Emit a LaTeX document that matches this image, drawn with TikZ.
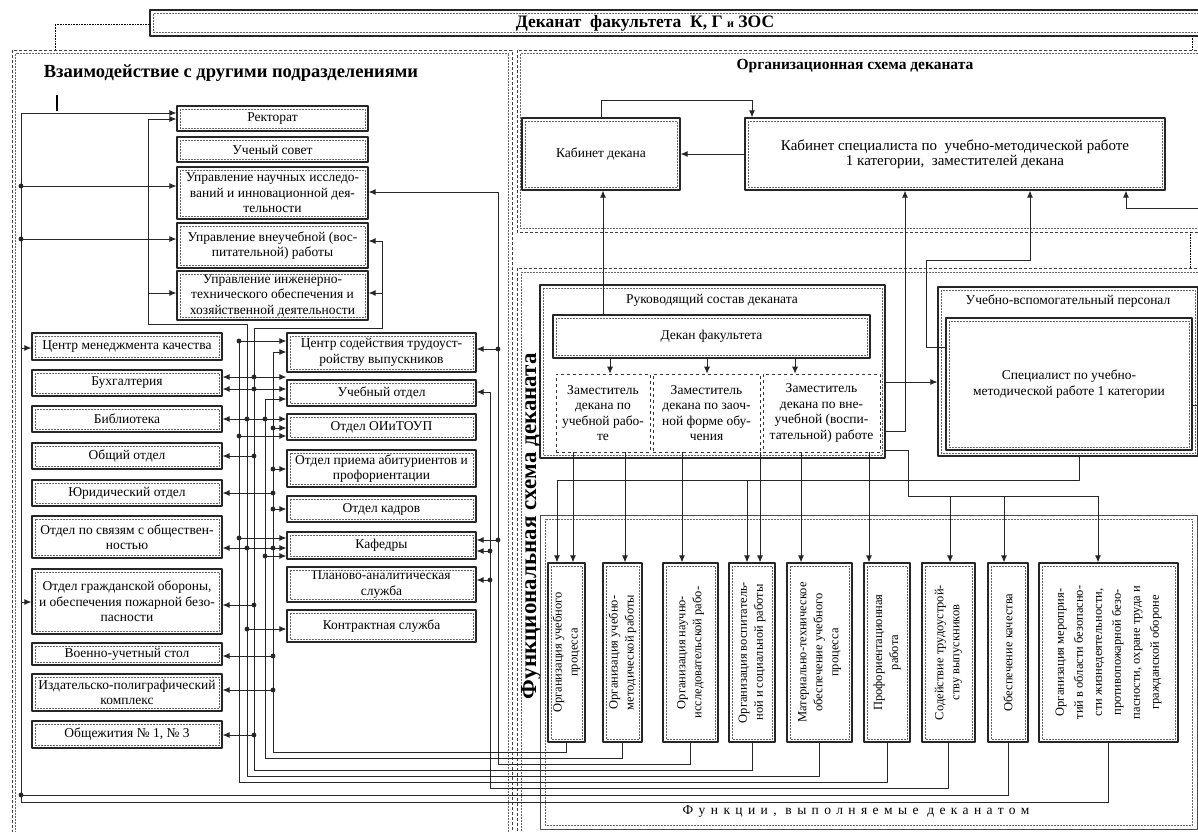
\documentclass[tikz,border=0pt]{standalone}
\usepackage{fontspec}
\setmainfont{Liberation Serif}
\usetikzlibrary{arrows.meta}
\newcommand{\bxfont}{\fontsize{13.5}{15.5}\selectfont}
\newcommand{\ftfont}{\fontsize{12.5}{16}\selectfont}
\tikzset{
 obox/.style={draw=black!85, line width=1.2pt, inner sep=1pt, align=center, font=\bxfont},
 ibox/.style={draw=black!60, densely dotted, line width=0.5pt},
 dep/.style={draw=black!80, dashed, line width=0.6pt, inner sep=0pt, align=center, font=\bxfont, minimum height=78},
 arr/.style={-{Latex[length=7pt,width=6pt]}, line width=0.9pt, draw=black!85},
 darr/.style={{Latex[length=7pt,width=6pt]}-{Latex[length=7pt,width=6pt]}, line width=0.9pt, draw=black!85},
 ln/.style={line width=0.9pt, draw=black!85},
 panel/.style={densely dashed, line width=0.7pt, draw=black!75},
}
\newcommand{\bx}[6]{%
 \node[obox, minimum width={#4-#2}, minimum height={#5-#3}] (#1) at ({(#2+#4)/2},{(#3+#5)/2}) {#6};
 \draw[ibox] ([shift={(3.5pt,-3.5pt)}]#1.north west) rectangle ([shift={(-3.5pt,3.5pt)}]#1.south east);}
\newcommand{\fb}[5]{%
 \node[obox, minimum width={#3-#2}, minimum height=179] (#1) at ({(#2+#3)/2},652.5) {};
 \draw[ibox] ([shift={(3.5pt,-3.5pt)}]#1.north west) rectangle ([shift={(-3.5pt,3.5pt)}]#1.south east);
 \node[rotate=90, align=center, inner sep=0pt, font=#5] (#1t) at (#1.center) {#4};}
\newcommand{\dt}[1]{\fill[black!85] (#1) circle (2.4pt);}
\begin{document}
\begin{tikzpicture}[x=1pt,y=-1pt,line join=round]
\useasboundingbox (0,0) rectangle (1198,831);
\fill[white] (0,0) rectangle (1198,831);

% ---------- banner and panels
\draw[line width=1.2pt, black!85] (150,10) rectangle (1215,36);
\draw[ibox] (153.5,13.5) rectangle (1215,32.5);
\node[font=\bfseries\fontsize{17.5}{20}\selectfont] (ban) at (645,23) {Деканат\ \ факультета\ \ К, Г {\fontsize{12}{14}\selectfont и} ЗОС};
\draw[densely dotted, line width=0.6pt] (150,24) -- (55,24) -- (55,50);
\draw[densely dotted, line width=0.6pt] (1192,36) -- (1192,50);

\draw[panel] (12,50) rectangle (512,850);
\draw[ibox] (15.5,53.5) rectangle (508.5,850);
\draw[panel] (517,50) rectangle (1215,232);
\draw[ibox] (520.5,53.5) rectangle (1215,228.5);
\draw[panel] (517,268) rectangle (1215,850);
\draw[ibox] (521,272) rectangle (1215,850);
\draw[densely dotted, line width=0.6pt] (1190,232) -- (1190,268);

\node[font=\bfseries\fontsize{18.5}{22}\selectfont] (ltit) at (231,73) {Взаимодействие с другими подразделениями};
\node[font=\bfseries\fontsize{15.5}{19}\selectfont] (otit) at (855,66) {Организационная схема деканата};
\draw[line width=1.2pt] (57,95) -- (57,111);

% ---------- left panel boxes
\bx{rekt}{177}{106}{368}{131}{Ректорат}
\bx{usov}{177}{137}{368}{162}{Ученый совет}
\bx{unir}{177}{167}{368}{219}{Управление научных исследо-\\ваний и инновационной дея-\\тельности}
\bx{uvr}{177}{223}{368}{268}{Управление внеучебной (вос-\\питательной) работы}
\bx{uito}{177}{271}{368}{320}{Управление инженерно-\\технического обеспечения и\\хозяйственной деятельности}

\bx{cmk}{32}{333}{222}{360}{Центр менеджмента качества}
\bx{buh}{32}{370}{222}{396}{Бухгалтерия}
\bx{bib}{32}{406}{222}{432}{Библиотека}
\bx{obo}{32}{443}{222}{469}{Общий отдел}
\bx{yur}{32}{480}{222}{506}{Юридический отдел}
\bx{svz}{32}{516}{222}{558}{Отдел по связям с обществен-\\ностью}
\bx{gob}{32}{569}{222}{634}{Отдел гражданской обороны,\\и обеспечения пожарной безо-\\пасности}
\bx{vus}{32}{643}{222}{665}{Военно-учетный стол}
\bx{izd}{32}{674}{222}{711}{Издательско-полиграфический\\комплекс}
\bx{obs}{32}{721}{222}{748}{Общежития № 1, № 3}

\bx{csv}{287}{333}{476}{372}{Центр содействия трудоуст-\\ройству выпускников}
\bx{uch}{287}{380}{476}{406}{Учебный отдел}
\bx{oit}{287}{414}{476}{440}{Отдел ОИиТОУП}
\bx{abt}{287}{450}{476}{487}{Отдел приема абитуриентов и\\профориентации}
\bx{kdr}{287}{496}{476}{522}{Отдел кадров}
\bx{kaf}{287}{532}{476}{559}{Кафедры}
\bx{pas}{287}{567}{476}{602}{Планово-аналитическая\\служба}
\bx{kon}{287}{610}{476}{642}{Контрактная служба}

% ---------- organisational scheme
\bx{kdek}{522}{118}{680}{190}{Кабинет декана}
\bx{kspec}{745}{118}{1165}{190}{\fontsize{15}{18}\selectfont Кабинет специалиста по\ \ учебно-методической работе\\\fontsize{15}{18}\selectfont 1 категории,\ \ заместителей декана}

% ---------- functional scheme
\bx{ruk}{540}{285}{885}{458}{}
\node[font=\bxfont] (rukt) at (712,300) {Руководящий состав деканата};
\bx{dekan}{553}{315}{870}{358}{Декан факультета}
\node[dep, minimum width=94] (z1) at (603,413) {Заместитель\\декана по\\учебной рабо-\\те};
\node[dep, minimum width=107] (z2) at (706.5,413) {Заместитель\\декана по заоч-\\ной форме обу-\\чения};
\node[dep, minimum width=117] (z3) at (821.5,413) {Заместитель\\декана по вне-\\учебной (воспи-\\тательной) работе};
\bx{uvp}{938}{287}{1198}{456}{}
\node[font=\bxfont] (uvpt) at (1068,301) {Учебно-вспомогательный персонал};
\bx{spec}{946}{318}{1192}{450}{Специалист по учебно-\\методической работе 1 категории}

\node[rotate=90, font=\bfseries\fontsize{23}{26}\selectfont] (ftit) at (531,526) {Функциональная схема деканата};

\draw[line width=0.6pt, black!70] (540,515) rectangle (1197,829);
\draw[ibox] (545,519) rectangle (1192,825);
\node[font=\bxfont\addfontfeature{LetterSpace=40}] (funl) at (856,812) {Функции, выполняемые деканатом};

\fb{f1}{548}{585}{Организация учебного\\процесса}{\ftfont}
\fb{f2}{603}{642}{Организация учебно-\\методической работы}{\ftfont}
\fb{f3}{663}{718}{Организация научно-\\исследовательской рабо-}{\ftfont}
\fb{f4}{729}{775}{Организация воспитатель-\\ной и социальной работы}{\ftfont}
\fb{f5}{787}{852}{Материально-техническое\\обеспечение учебного\\процесса}{\ftfont}
\fb{f6}{864}{910}{Профориентационная\\работа}{\ftfont}
\fb{f7}{922}{975}{Содействие трудоустрой-\\ству выпускников}{\ftfont}
\fb{f8}{988}{1028}{Обеспечение качества}{\ftfont}
\fb{f9}{1039}{1178}{Организация мероприя-\\тий в области безопасно-\\сти жизнедеятельности,\\противопожарной безо-\\пасности, охране труда и\\гражданской обороне}{\fontsize{12.5}{19}\selectfont}

% ---------- organisational connectors
\draw[arr] (kspec.west) -- (kdek.east);
\draw[arr] (kdek.north) |- (752,100) -- (752,0 |- kspec.north);
\draw[arr] (603,0 |- dekan.north) -- (603,0 |- kdek.south);
\draw[arr] (ruk.east |- 0,431) -- (905,431) -- (905,0 |- kspec.south);
\draw[arr] (spec.west |- 0,347) -- (926,347) -- (926,260) -- (1030,260) -- (1030,0 |- kspec.south);
\draw[arr] (1215,208) -- (1126,208) -- (1126,0 |- kspec.south);
\draw[arr] (ruk.east |- 0,382) -- (uvp.west |- 0,382);
\draw[ln] (spec.east |- 0,405) -- (1215,405);

\draw[arr] (610,0 |- dekan.south) -- (610,0 |- z1.north);
\draw[arr] (707,0 |- dekan.south) -- (707,0 |- z2.north);
\draw[arr] (795,0 |- dekan.south) -- (795,0 |- z3.north);

% ---------- functional connectors
\draw[arr] (573,0 |- z1.south) -- (573,0 |- f1.north);
\draw[arr] (625,0 |- z1.south) -- (625,0 |- f2.north);
\draw[arr] (682,0 |- z2.south) -- (682,0 |- f3.north);
\draw[arr] (760,0 |- z3.south) -- (760,0 |- f4.north);
\draw[arr] (801,0 |- z3.south) -- (801,0 |- f5.north);
\draw[arr] (869,0 |- z3.south) -- (869,0 |- f6.north);
\draw[ln] (ruk.east |- 0,450) -- (908,450) -- (908,496) -- (1098,496);
\draw[arr] (950,496) -- (950,0 |- f7.north);
\draw[arr] (1004,496) -- (1004,0 |- f8.north);
\draw[arr] (1098,496) -- (1098,0 |- f9.north);
\draw[ln] (1079,0 |- uvp.south) -- (1079,480) -- (557,480);
\draw[arr] (557,480) -- (557,0 |- f1.north);
\draw[arr] (747,480) -- (747,0 |- f4.north);

% ---------- left bus
\draw[ln] (21,113) -- (21,802);
\draw[arr] (21,113) -- (21,113 -| rekt.west);
\draw[arr] (21,186) -- (21,186 -| unir.west); \dt{21,186}
\draw[arr] (21,239) -- (21,239 -| uvr.west); \dt{21,239}
\draw[arr] (21,348) -- (21,348 -| cmk.west);
\draw[arr] (21,602) -- (21,602 -| gob.west);

\draw[arr] (f5.south) |- (247,776) -- (247,324) -- (148,324) -- (148,119) -- (148,119 -| rekt.west);
\draw[arr] (148,293) -- (148,293 -| uito.west);
\draw[arr] (247,629) -- (247,629 -| kon.west); \dt{247,629}

\draw[arr] (f4.south) |- (254,770) -- (254,328) -- (382,328) -- (382,241) -- (382,241 -| uvr.east);
\draw[arr] (382,293) -- (382,293 -| uito.east);
\draw[darr] (buh.east |- 0,377) -- (uch.west |- 0,377); \dt{254,377}
\draw[darr] (buh.east |- 0,389) -- (uch.west |- 0,389); \dt{254,389}
\draw[arr] (254,456) -- (254,456 -| obo.east); \dt{254,456}
\draw[arr] (254,605) -- (254,605 -| gob.east); \dt{254,605}
\draw[arr] (254,735) -- (254,735 -| obs.east); \dt{254,735}

\draw[arr] (f6.south) |- (239,782) -- (239,341) -- (239,341 -| csv.west); \dt{239,341}
\draw[arr] (239,436) -- (239,436 -| oit.west); \dt{239,436}
\draw[arr] (239,538) -- (239,538 -| kaf.west); \dt{239,538}

\draw[arr] (f2.south) |- (265,758) -- (265,399) -- (265,399 -| uch.west);
\draw[darr] (bib.east |- 0,419) -- (oit.west |- 0,419); \dt{247,419} \dt{265,419}
\draw[arr] (265,556) -- (265,556 -| kaf.west); \dt{265,556}
\draw[darr] (svz.east |- 0,548) -- (kaf.west |- 0,548); \dt{247,548} \dt{273,548}

\draw[arr] (f1.south) |- (273,752) -- (273,352) -- (273,352 -| csv.west);
\draw[arr] (273,428) -- (273,428 -| oit.west); \dt{273,428}
\draw[arr] (273,469) -- (273,469 -| abt.west); \dt{273,469}
\draw[arr] (273,493) -- (273,493 -| yur.east); \dt{273,493}
\draw[arr] (273,509) -- (273,509 -| kdr.west); \dt{273,509}
\draw[arr] (273,656) -- (273,656 -| vus.east); \dt{273,656}
\draw[arr] (273,690) -- (273,690 -| izd.east); \dt{273,690}

\draw[arr] (f3.south) |- (498,764) -- (498,192) -- (498,192 -| unir.east);
\draw[arr] (498,349) -- (498,349 -| csv.east); \dt{498,349}
\draw[arr] (498,540) -- (498,540 -| kaf.east); \dt{498,540}
\draw[arr] (f7.south) |- (490,788) -- (490,392) -- (490,392 -| uch.east);
\draw[arr] (490,551) -- (490,551 -| kaf.east); \dt{490,551}
\draw[arr] (490,580) -- (490,580 -| pas.east); \dt{490,580}

\draw[ln] (21,795) -- (21,795 -| f8.south) -- (f8.south); \dt{21,795}
\draw[ln] (21,802) -- (21,802 -| f9.south) -- (f9.south);
\end{tikzpicture}
\end{document}
